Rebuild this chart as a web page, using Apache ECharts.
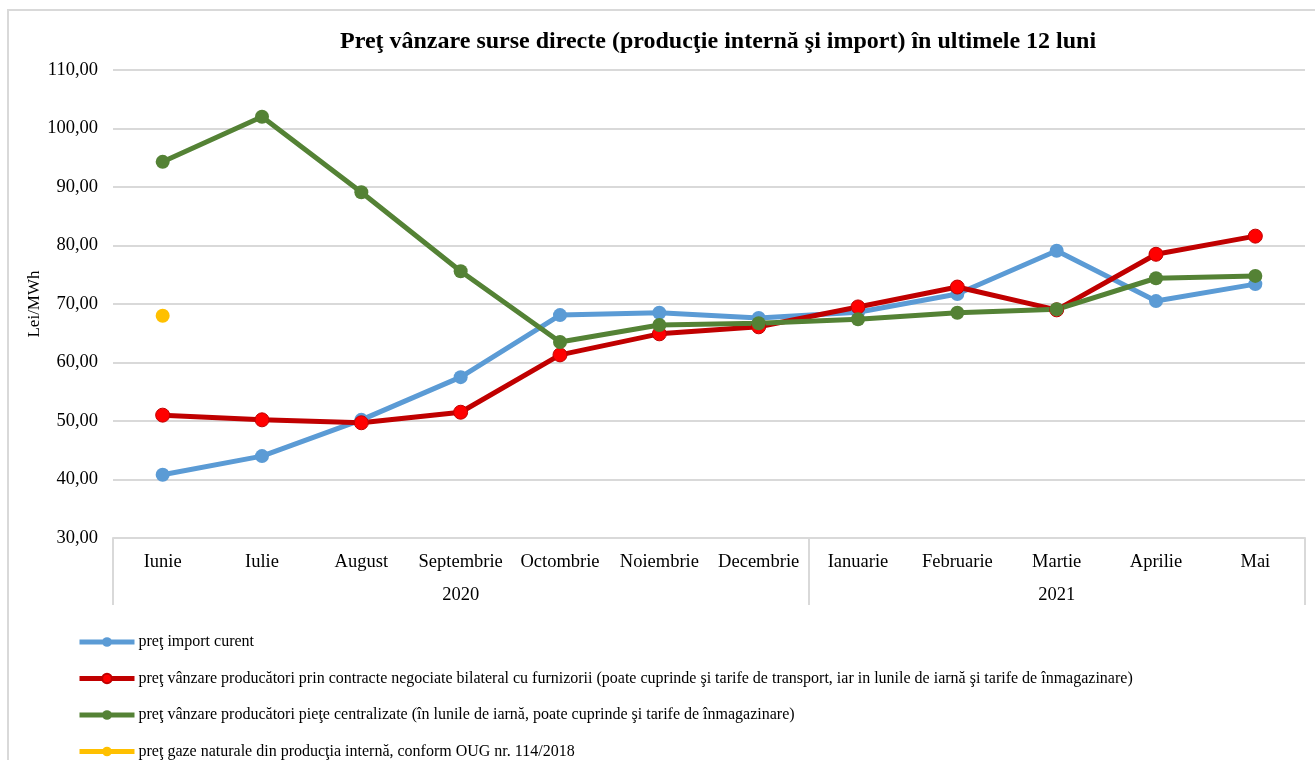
<!DOCTYPE html>
<html>
<head>
<meta charset="utf-8">
<script src="https://cdn.jsdelivr.net/npm/echarts@6/dist/echarts.min.js"></script>
<style>
html,body{margin:0;padding:0;width:1315px;height:760px;overflow:hidden;background:#fff;}
#frame{position:absolute;left:7px;top:9px;width:1330px;height:800px;border:2px solid #d9d9d9;box-sizing:border-box;}
#chart{position:absolute;left:0;top:0;width:1315px;height:760px;}
</style>
</head>
<body>
<div id="frame"></div>
<div id="chart"></div>
<script>
const months = ['Iunie','Iulie','August','Septembrie','Octombrie','Noiembrie','Decembrie','Ianuarie','Februarie','Martie','Aprilie','Mai'];
const years = ['', '', '', '2020', '', '', '', '', '', '2021', '', ''];
const yearStarts = [0, 7];
const importPrice = [40.8, 44.0, 50.2, 57.5, 68.1, 68.5, 67.6, 68.6, 71.7, 79.1, 70.5, 73.4];
const bilateralPrice = [51.0, 50.2, 49.7, 51.5, 61.3, 64.9, 66.1, 69.5, 72.9, 69.0, 78.5, 81.6];
const centralPrice = [94.3, 102.0, 89.1, 75.6, 63.5, 66.4, 66.7, 67.4, 68.5, 69.1, 74.4, 74.8];
const internalPrice = [68.0, null, null, null, null, null, null, null, null, null, null, null];
const seriesNames = [
  'preţ import curent',
  'preţ vânzare producători prin contracte negociate bilateral cu furnizorii (poate cuprinde şi tarife de transport, iar in lunile de iarnă şi tarife de înmagazinare)',
  'preţ vânzare producători pieţe centralizate (în lunile de iarnă, poate cuprinde şi tarife de înmagazinare)',
  'preţ gaze naturale din producţia internă, conform OUG nr. 114/2018'
];
const titleText = 'Preţ vânzare surse directe (producţie internă şi import) în ultimele 12 luni';

const font = '"Liberation Serif", "Times New Roman", serif';
const chart = echarts.init(document.getElementById('chart'), null, {renderer: 'canvas'});
function lineSeries(name, data, color, fill, border) {
  return {
    name: name, type: 'line', data: data,
    symbol: 'circle', symbolSize: 14, showSymbol: true,
    lineStyle: {color: color, width: 5},
    itemStyle: {color: fill || color, borderColor: border || fill || color, borderWidth: border ? 1 : 0},
    connectNulls: false
  };
}
chart.setOption({
  animation: false,
  textStyle: {fontFamily: font},
  title: {
    text: titleText, left: 340, top: 30, padding: 0,
    textStyle: {fontFamily: font, fontSize: 24, fontWeight: 'bold', color: '#000'}
  },
  legend: {
    orient: 'vertical', left: 77, top: 634, height: 200, padding: 0,
    itemWidth: 55, itemHeight: 12, itemGap: 20.5,
    lineStyle: {width: 5},
    textStyle: {fontFamily: font, fontSize: 16, lineHeight: 16, color: '#000', padding: [0,0,0,-1]},
    data: seriesNames
  },
  grid: {left: 113, right: 10, top: 70, bottom: 222, containLabel: false},
  xAxis: [{
    type: 'category', data: months, boundaryGap: true,
    axisLine: {show: true, lineStyle: {color: '#d9d9d9', width: 2}},
    axisTick: {show: false},
    axisLabel: {interval: 0, margin: 15, fontFamily: font, fontSize: 18.5, color: '#000'}
  }, {
    type: 'category', data: years, position: 'bottom', boundaryGap: true,
    axisLine: {show: false},
    axisTick: {show: true, length: 67, interval: function (i) { return yearStarts.indexOf(i) >= 0; }, lineStyle: {color: '#d9d9d9', width: 2}},
    axisLabel: {interval: 0, margin: 48, fontFamily: font, fontSize: 18.5, color: '#000'}
  }],
  yAxis: {
    type: 'value', min: 30, max: 110, interval: 10,
    name: 'Lei/MWh', nameLocation: 'middle', nameGap: 70, nameRotate: 90, nameMoveOverlap: false,
    nameTextStyle: {fontFamily: font, fontSize: 17, color: '#000'},
    axisLine: {show: false}, axisTick: {show: false},
    splitLine: {lineStyle: {color: '#d9d9d9', width: 2}},
    axisLabel: {margin: 15, fontFamily: font, fontSize: 18.5, color: '#000',
      formatter: function (v) { return v.toFixed(2).replace('.', ','); }}
  },
  series: [
    lineSeries(seriesNames[0], importPrice, '#5B9BD5'),
    lineSeries(seriesNames[1], bilateralPrice, '#C00000', '#FF0000', '#C00000'),
    lineSeries(seriesNames[2], centralPrice, '#548235'),
    lineSeries(seriesNames[3], internalPrice, '#FFC000')
  ]
});
</script>
</body>
</html>
